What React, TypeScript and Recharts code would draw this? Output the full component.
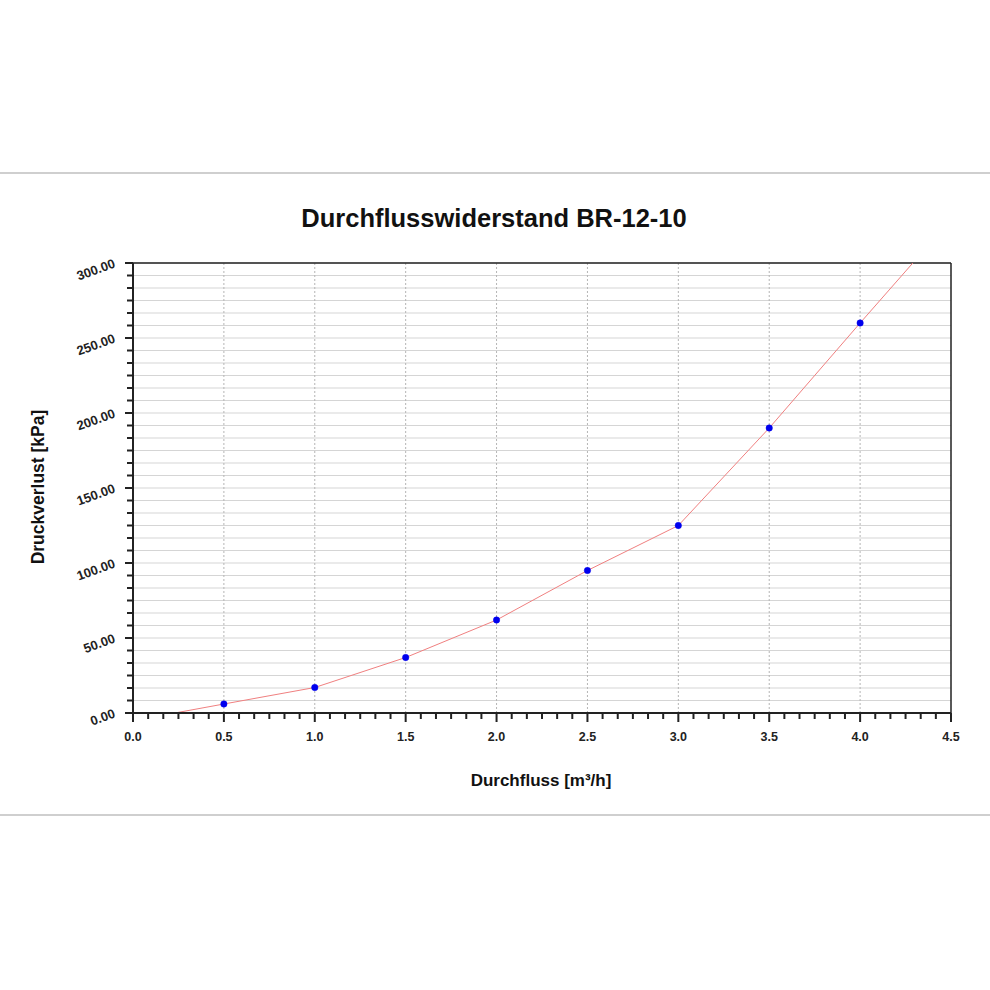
import React from "react";
import {
  ComposedChart,
  Line,
  XAxis,
  YAxis,
  CartesianGrid,
  ReferenceLine,
} from "recharts";

// measured points (Durchfluss m³/h -> Druckverlust kPa)
const FLOW = [0.5, 1.0, 1.5, 2.0, 2.5, 3.0, 3.5, 4.0];
const PRESSURE = [6, 17, 37, 62, 95, 125, 190, 260];
// where the red curve leaves the axis and the top of the plot
const CURVE_START = { x: 0.23, y: 0 };
const CURVE_END = { x: 4.29, y: 300 };

const X_TICKS = Array.from({ length: 55 }, (_, i) => i / 12);
const Y_TICKS = Array.from({ length: 37 }, (_, i) => (i * 50) / 6);
const X_MAJOR = [0.5, 1.0, 1.5, 2.0, 2.5, 3.0, 3.5, 4.0];

const FONT = '"Liberation Sans", Arial, Helvetica, sans-serif';

const isMajor = (v: number, step: number) =>
  Math.abs(v / step - Math.round(v / step)) < 1e-6;

const data = [
  { x: CURVE_START.x, curve: CURVE_START.y },
  ...FLOW.map((f, i) => ({ x: f, curve: PRESSURE[i], point: PRESSURE[i] })),
  { x: CURVE_END.x, curve: CURVE_END.y },
];

const YTick = (props: any) => {
  const { x, y, payload } = props;
  const v = payload.value as number;
  const major = isMajor(v, 50);
  const tx = x - 17;
  const ty = y + 4;
  return (
    <g>
      <line x1={x} x2={x - (major ? 8 : 6)} y1={y} y2={y} stroke="#222" strokeWidth={2} />
      {major && (
        <text
          x={tx}
          y={ty}
          textAnchor="end"
          transform={`rotate(-20 ${tx} ${ty})`}
          fontFamily={FONT}
          fontWeight="bold"
          fontSize={13}
          fill="#222"
        >
          {v.toFixed(2)}
        </text>
      )}
    </g>
  );
};

const XTick = (props: any) => {
  const { x, y, payload } = props;
  const v = payload.value as number;
  const major = isMajor(v, 0.5);
  return (
    <g>
      <line x1={x} x2={x} y1={y} y2={y + (major ? 9 : 6)} stroke="#222" strokeWidth={2} />
      {major && (
        <text
          x={x}
          y={y + 28}
          textAnchor="middle"
          fontFamily={FONT}
          fontWeight="bold"
          fontSize={12.5}
          fill="#222"
        >
          {v.toFixed(1)}
        </text>
      )}
    </g>
  );
};

const App = () => {
  return (
    <div
      style={{
        position: "absolute",
        left: 0,
        top: 0,
        width: 990,
        height: 990,
        background: "#fff",
        fontFamily: FONT,
      }}
    >
      <div style={{ position: "absolute", left: 0, top: 172, width: 990, height: 2, background: "#cfcfcf" }} />
      <div style={{ position: "absolute", left: 0, top: 814, width: 990, height: 2, background: "#cfcfcf" }} />

      <div
        style={{
          position: "absolute",
          left: 494,
          top: 218,
          transform: "translate(-50%, -50%)",
          fontWeight: "bold",
          fontSize: 25.5,
          whiteSpace: "nowrap",
          color: "#111",
        }}
      >
        Durchflusswiderstand BR-12-10
      </div>

      <div style={{ position: "absolute", left: 0, top: 0 }}>
        <ComposedChart
          width={990}
          height={990}
          data={data}
          margin={{ top: 263, right: 39, left: 73, bottom: 247 }}
        >
          <CartesianGrid vertical={false} stroke="#d5d5d5" strokeWidth={1.2} />
          <XAxis
            type="number"
            dataKey="x"
            domain={[0, 4.5]}
            ticks={X_TICKS}
            interval={0}
            height={30}
            tickSize={0}
            tickMargin={0}
            tick={<XTick />}
            axisLine={{ stroke: "#222", strokeWidth: 2 }}
            tickLine={false}
            allowDataOverflow
          />
          <YAxis
            type="number"
            domain={[0, 300]}
            ticks={Y_TICKS}
            interval={0}
            width={60}
            tickSize={0}
            tickMargin={0}
            tick={<YTick />}
            axisLine={{ stroke: "#222", strokeWidth: 2 }}
            tickLine={false}
            allowDataOverflow
          />
          {X_MAJOR.map((v) => (
            <ReferenceLine key={v} x={v} stroke="#b5b5b5" strokeDasharray="2 2" />
          ))}
          <ReferenceLine y={300} stroke="#222" strokeWidth={1.5} />
          <ReferenceLine x={4.5} stroke="#222" strokeWidth={1.5} />
          <Line
            dataKey="curve"
            type="linear"
            stroke="#f08080"
            strokeWidth={1}
            dot={false}
            isAnimationActive={false}
          />
          <Line
            dataKey="point"
            type="linear"
            stroke="none"
            dot={{ r: 3.2, fill: "#0000ee", stroke: "#0000ee", strokeWidth: 0.5 }}
            isAnimationActive={false}
          />
        </ComposedChart>
      </div>

      <div
        style={{
          position: "absolute",
          left: 38,
          top: 487,
          transform: "translate(-50%, -50%) rotate(-90deg)",
          fontWeight: "bold",
          fontSize: 17.5,
          whiteSpace: "nowrap",
          color: "#111",
        }}
      >
        Druckverlust [kPa]
      </div>
      <div
        style={{
          position: "absolute",
          left: 541,
          top: 781,
          transform: "translate(-50%, -50%)",
          fontWeight: "bold",
          fontSize: 17,
          whiteSpace: "nowrap",
          color: "#111",
        }}
      >
        Durchfluss [m³/h]
      </div>
    </div>
  );
};

export default App;
